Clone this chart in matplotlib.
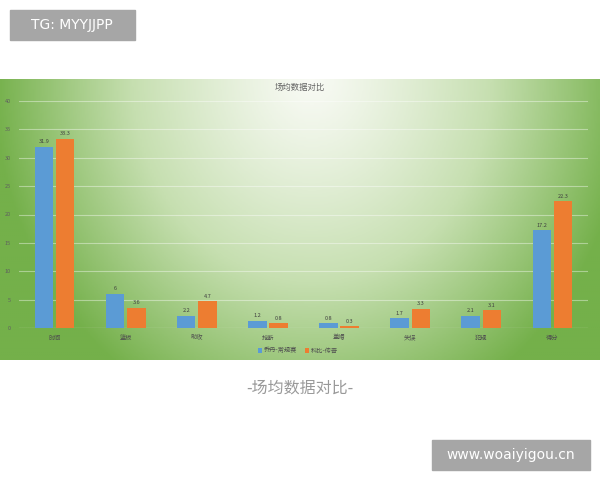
import numpy as np
import matplotlib.pyplot as plt
from matplotlib.colors import LinearSegmentedColormap
from matplotlib.patches import Rectangle

plt.rcParams['font.family'] = ['Noto Sans CJK SC', 'DejaVu Sans']

categories = ["时间", "篮板", "助攻", "抢断", "盖帽", "失误", "犯规", "得分"]
series_names = ["乔丹-常规赛", "科比-传奇"]
blue_vals = [31.9, 6, 2.2, 1.2, 0.8, 1.7, 2.1, 17.2]
orange_vals = [33.3, 3.6, 4.7, 0.8, 0.3, 3.3, 3.1, 22.3]
y_ticks = [0, 5, 10, 15, 20, 25, 30, 35, 40]

fig = plt.figure(figsize=(6, 4.8), dpi=100)
fig.patch.set_facecolor("white")

# green gradient panel behind the chart
bg = fig.add_axes([0, (480 - 360) / 480, 1, (360 - 79) / 480])
xx, yy = np.meshgrid(np.linspace(0, 1, 300), np.linspace(0, 1, 140))
t = np.sqrt(((xx - 0.52) / 0.52) ** 2 * 0.95 + (yy / 1.0) ** 2 * 0.6)
t = np.clip(t, 0, 1) ** 1.2
cmap = LinearSegmentedColormap.from_list("g", ["#f8faf4", "#c6dfb0", "#74b04a"])
bg.imshow(t, cmap=cmap, aspect="auto", extent=[0, 1, 0, 1], origin="upper", vmin=0, vmax=1)
bg.set_axis_off()

ax = fig.add_axes([19 / 600, (480 - 328) / 480, (588 - 19) / 600, 227 / 480])
ax.patch.set_alpha(0)
x = np.arange(len(categories))
w = 0.26
b1 = ax.bar(x - 0.15, blue_vals, w, color="#5b9bd5", label=series_names[0], zorder=3)
b2 = ax.bar(x + 0.15, orange_vals, w, color="#ed7d31", label=series_names[1], zorder=3)
for bars in (b1, b2):
    ax.bar_label(bars, labels=[f"{v:g}" for v in bars.datavalues], padding=2,
                 fontsize=4, color="#404040")

ax.set_xlim(-0.5, len(categories) - 0.5)
ax.set_ylim(0, 40)
ax.set_yticks(y_ticks)
ax.set_yticklabels([str(v) for v in y_ticks], fontsize=4, color="#606060")
ax.set_xticks(x)
ax.set_xticklabels(categories, fontsize=4.5, color="#505050")
ax.tick_params(length=0, pad=4)
ax.tick_params(axis="y", pad=6)
ax.grid(axis="y", color="white", alpha=0.4, lw=0.8, zorder=0)
for s in ax.spines.values():
    s.set_visible(False)
ax.axhline(0, color="#d9e8cc", lw=0.8, zorder=2)

ax.legend(loc="center", bbox_to_anchor=(0.49, -0.1), ncol=2, frameon=False,
          fontsize=4.5, handlelength=0.7, handleheight=0.7, columnspacing=1.2,
          handletextpad=0.3, labelcolor="#505050")

fig.text(300 / 600, 1 - 87 / 480, "场均数据对比", ha="center", va="center",
         fontsize=6, color="#606060")

fig.text(300 / 600, 1 - 388 / 480, "-场均数据对比-", ha="center", va="center",
         fontsize=11.5, color="#999999")

# badges
fig.patches.append(Rectangle((10 / 600, 1 - 40 / 480), 125 / 600, 30 / 480,
                             transform=fig.transFigure, color="#a6a6a6"))
fig.text(72 / 600, 1 - 25 / 480, "TG: MYYJJPP", ha="center", va="center",
         fontsize=10, color="white", family="DejaVu Sans")
fig.patches.append(Rectangle((432 / 600, 1 - 470 / 480), 158 / 600, 30 / 480,
                             transform=fig.transFigure, color="#a6a6a6"))
fig.text(511 / 600, 1 - 455 / 480, "www.woaiyigou.cn", ha="center", va="center",
         fontsize=10, color="white", family="DejaVu Sans")

fig.savefig("out.png", dpi=100)
